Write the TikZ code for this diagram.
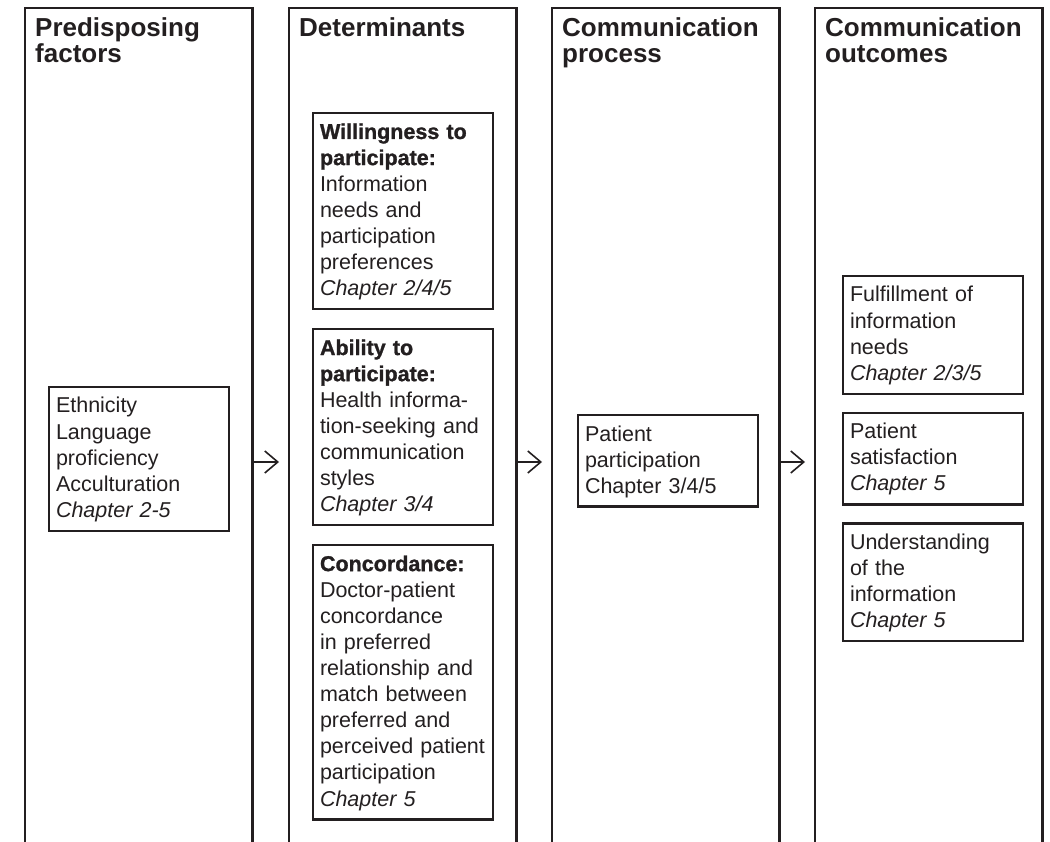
\documentclass[tikz,border=0pt]{standalone}
\usepackage{fontspec}
\setmainfont{Liberation Sans}
\newfontfamily\heavyfont{Liberation Sans Bold}[FakeBold=1.2]
\usepackage{tikz}
\usetikzlibrary{arrows.meta,positioning,calc}
\definecolor{ink}{RGB}{35,31,32}
\newcommand{\bodyfont}{\fontsize{21.5}{26.1}\selectfont}
\newcommand{\headfont}{\fontsize{26}{26}\selectfont\bfseries}
\newcommand{\boxhead}[1]{{\heavyfont #1}}

\begin{document}
\begin{tikzpicture}[
  x=1pt, y=-1pt,
  stage/.style={minimum width=227pt, minimum height=834pt, anchor=north west, inner sep=0pt},
  colframe/.style={draw=ink, line width=2.4pt},
  stagehead/.style={anchor=north west, text width=207pt, align=left, font=\headfont, text=ink, text height=18pt, inner sep=10pt},
  factor/.style={draw=ink, line width=2.4pt, anchor=north west, outer sep=0pt, text width=166pt, inner xsep=7pt, inner ysep=9pt, text height=17pt, align=left, font=\bodyfont, text=ink},
  flow/.style={draw=ink, line width=1.6pt, -{Straight Barb[length=13pt,width=22pt]}}
]
  \useasboundingbox (0,0) rectangle (1050,842);

  % the four stages
  \node[stage] (pre) at (25,8) {};
  \node[stage] (det) at (289,8) {};
  \node[stage] (proc) at (552,8) {};
  \node[stage] (outc) at (815,8) {};
  \foreach \s in {pre,det,proc,outc}
    \draw[colframe] (\s.south west) |- (\s.north) -| (\s.south east);

  \node[stagehead] (hpre) at (pre.north west) {Predisposing\\factors};
  \node[stagehead] (hdet) at (det.north west) {Determinants};
  \node[stagehead] (hproc) at (proc.north west) {Communication\\process};
  \node[stagehead] (houtc) at (outc.north west) {Communication\\outcomes};

  % boxes
  \node[factor] (eth) at (49,387) {Ethnicity\\Language\\proficiency\\Acculturation\\\textit{Chapter 2-5}};

  \node[factor] (will) at (313,113) {\boxhead{Willingness to}\\\boxhead{participate:}\\Information\\needs and\\participation\\preferences\\\textit{Chapter 2/4/5}};
  \node[factor, below=20pt of will] (abil) {\boxhead{Ability to}\\\boxhead{participate:}\\Health informa-\\tion-seeking and\\communication\\styles\\\textit{Chapter 3/4}};
  \node[factor, below=20pt of abil] (conc) {\boxhead{Concordance:}\\Doctor-patient\\concordance\\in preferred\\relationship and\\match between\\preferred and\\perceived patient\\participation\\\textit{Chapter 5}};

  \node[factor] (pat) at (578,415) {Patient\\participation\\Chapter 3/4/5};

  \node[factor] (ful) at (843,276) {Fulfillment of\\information\\needs\\\textit{Chapter 2/3/5}};
  \node[factor, below=19pt of ful] (sat) {Patient\\satisfaction\\\textit{Chapter 5}};
  \node[factor, below=19pt of sat] (und) {Understanding\\of the\\information\\\textit{Chapter 5}};

  % arrows between stages
  \coordinate (mid) at (0,462);
  \draw[flow] (pre.east |- mid) -- ($(det.west |- mid)+(-10,0)$);
  \draw[flow] (det.east |- mid) -- ($(proc.west |- mid)+(-10,0)$);
  \draw[flow] (proc.east |- mid) -- ($(outc.west |- mid)+(-10,0)$);
\end{tikzpicture}
\end{document}
